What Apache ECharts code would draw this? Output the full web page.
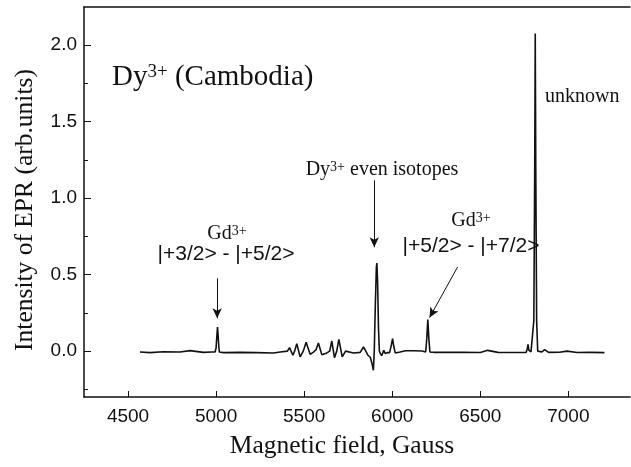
<!DOCTYPE html>
<html>
<head>
<meta charset="utf-8">
<script src="https://cdn.jsdelivr.net/npm/echarts@6/dist/echarts.min.js"></script>
<style>
  html, body { margin: 0; padding: 0; background: #fff; }
  #chart { width: 631px; height: 467px; }
</style>
</head>
<body>
<div id="chart"></div>
<script>
// EPR spectrum, Dy3+ (Cambodia)
const fieldG = [
    4568, 4625, 4700, 4795, 4852, 4928, 4975, 4994, 5000, 5005, 5008, 5011, 5016, 5019,
    5041, 5136, 5231, 5326, 5364, 5405, 5417, 5436, 5446, 5458, 5477, 5495, 5511, 5534,
    5553, 5568, 5581, 5600, 5629, 5645, 5657, 5672, 5685, 5697, 5716, 5735, 5780, 5818,
    5837, 5850, 5862, 5875, 5885, 5893, 5898, 5904, 5910, 5913, 5917, 5922, 5927, 5932,
    5940, 5947, 5952, 5960, 5972, 5985, 5995, 6002, 6009, 6017, 6045, 6075, 6120, 6170,
    6190, 6196, 6202, 6208, 6214, 6240, 6300, 6400, 6500, 6542, 6600, 6700, 6760, 6766,
    6771, 6776, 6788, 6795, 6804, 6809, 6812, 6815, 6820, 6826, 6831, 6850, 6865, 6888,
    6950, 6992, 7050, 7120, 7205
];
const epr = [
    -0.006, -0.010, -0.004, -0.006, 0.003, -0.008, -0.006, -0.006, 0.020, 0.110, 0.158, 0.110, 0.020, -0.006,
    -0.010, -0.008, -0.010, -0.012, -0.006, 0.000, 0.023, -0.027, 0.000, 0.049, -0.038, 0.000, 0.058, -0.021,
    -0.006, 0.010, 0.053, -0.023, -0.012, 0.000, 0.066, -0.043, 0.000, 0.077, -0.038, 0.000, -0.012, -0.008,
    0.027, 0.000, -0.027, -0.040, -0.080, -0.125, 0.000, 0.300, 0.550, 0.576, 0.450, 0.150, 0.000, -0.015,
    -0.030, -0.010, 0.005, -0.015, -0.010, -0.010, 0.040, 0.082, 0.030, -0.012, -0.006, 0.002, 0.002, 0.001,
    -0.006, 0.080, 0.206, 0.080, -0.006, -0.008, -0.008, -0.007, -0.009, 0.005, -0.008, -0.009, -0.008, 0.010,
    0.044, 0.005, -0.005, 0.000, 0.200, 1.200, 2.077, 1.200, 0.200, 0.000, 0.005, -0.006, 0.010, -0.008,
    -0.007, 0.000, -0.009, -0.008, -0.010
];

// tick values
const xTicks = [4500, 5000, 5500, 6000, 6500, 7000];
const yTicks = [0, 0.5, 1.0, 1.5, 2.0];
const yMinorTicks = [-0.25, 0.25, 0.75, 1.25, 1.75];

// annotation arrows [from, to] in data space
const arrows = [
    [[5006, 0.476], [5006, 0.215]],
    [[5898, 1.117], [5898, 0.679]],
    [[6371, 0.550], [6212, 0.219]]
];

const ink = '#111';
const serif = '"Liberation Serif", "DejaVu Serif", serif';
const sans = '"Liberation Sans", Arial, sans-serif';

const chart = echarts.init(document.getElementById('chart'));

const supRich = {
    s: { fontFamily: serif, fontSize: 14, verticalAlign: 'top', fill: ink }
};

chart.setOption({
    animation: false,
    backgroundColor: '#fff',
    grid: {
        left: 84,
        right: 1,
        top: 7,
        bottom: 70,
        containLabel: false
    },
    xAxis: [
        {
            type: 'value',
            min: 4250,
            max: 7350,
            name: 'Magnetic field, Gauss',
            nameLocation: 'middle',
            nameGap: 36,
            nameTextStyle: {
                fontFamily: serif,
                fontSize: 25.5,
                color: ink,
                padding: [0, 30, 0, 0]
            },
            axisLine: { show: true, onZero: false, lineStyle: { color: ink, width: 1.5 } },
            axisTick: { show: true, inside: true, length: 6, customValues: xTicks, lineStyle: { color: ink, width: 1 } },
            axisLabel: {
                customValues: xTicks,
                formatter: v => String(v),
                fontFamily: sans,
                fontSize: 19,
                color: ink,
                margin: 10
            },
            splitLine: { show: false }
        },
        {
            type: 'value',
            position: 'top',
            min: 4250,
            max: 7350,
            axisLine: { show: true, onZero: false, lineStyle: { color: ink, width: 1.5 } },
            axisTick: { show: false },
            axisLabel: { show: false },
            splitLine: { show: false }
        }
    ],
    yAxis: [
        {
            type: 'value',
            min: -0.3,
            max: 2.25,
            name: 'Intensity of EPR (arb.units)',
            nameLocation: 'middle',
            nameGap: 46,
            nameTextStyle: {
                fontFamily: serif,
                fontSize: 25.5,
                color: ink,
                padding: [0, 16, 0, 0]
            },
            axisLine: { show: true, onZero: false, lineStyle: { color: ink, width: 1.5 } },
            axisTick: { show: true, inside: true, length: 7, customValues: yTicks, lineStyle: { color: ink, width: 1 } },
            axisLabel: {
                customValues: yTicks,
                formatter: v => v.toFixed(1),
                fontFamily: sans,
                fontSize: 19,
                color: ink,
                margin: 7
            },
            splitLine: { show: false }
        },
        {
            type: 'value',
            position: 'left',
            min: -0.3,
            max: 2.25,
            axisLine: { show: false, onZero: false },
            axisTick: { show: true, inside: true, length: 4, customValues: yMinorTicks, lineStyle: { color: ink, width: 1 } },
            axisLabel: { show: false },
            splitLine: { show: false }
        }
    ],
    series: [
        {
            type: 'line',
            name: 'EPR',
            showSymbol: false,
            data: fieldG.map((f, i) => [f, epr[i]]),
            lineStyle: { color: ink, width: 1.6 },
            markLine: {
                silent: true,
                symbol: ['none', 'arrow'],
                symbolSize: [7, 10],
                label: { show: false },
                lineStyle: { color: ink, width: 1, type: 'solid' },
                data: arrows.map(a => [{ coord: a[0] }, { coord: a[1] }])
            }
        }
    ],
    graphic: [
        {
            type: 'text', x: 112, y: 77,
            style: {
                text: 'Dy{s|3+} (Cambodia)', font: '29px ' + serif, fill: ink,
                align: 'left', verticalAlign: 'middle',
                rich: { s: { fontFamily: serif, fontSize: 19, verticalAlign: 'top', fill: ink } }
            }
        },
        {
            type: 'text', x: 382, y: 170,
            style: {
                text: 'Dy{s|3+} even isotopes', font: '20px ' + serif, fill: ink,
                align: 'center', verticalAlign: 'middle',
                rich: supRich
            }
        },
        {
            type: 'text', x: 227, y: 234,
            style: {
                text: 'Gd{s|3+}', font: '20px ' + serif, fill: ink,
                align: 'center', verticalAlign: 'middle',
                rich: supRich
            }
        },
        {
            type: 'text', x: 226, y: 254,
            style: {
                text: '|+3/2> - |+5/2>', font: '21px ' + sans, fill: ink,
                align: 'center', verticalAlign: 'middle'
            }
        },
        {
            type: 'text', x: 471, y: 221,
            style: {
                text: 'Gd{s|3+}', font: '20px ' + serif, fill: ink,
                align: 'center', verticalAlign: 'middle',
                rich: supRich
            }
        },
        {
            type: 'text', x: 471, y: 246,
            style: {
                text: '|+5/2> - |+7/2>', font: '21px ' + sans, fill: ink,
                align: 'center', verticalAlign: 'middle'
            }
        },
        {
            type: 'text', x: 545, y: 97,
            style: {
                text: 'unknown', font: '20px ' + serif, fill: ink,
                align: 'left', verticalAlign: 'middle'
            }
        }
    ]
});
</script>
</body>
</html>
